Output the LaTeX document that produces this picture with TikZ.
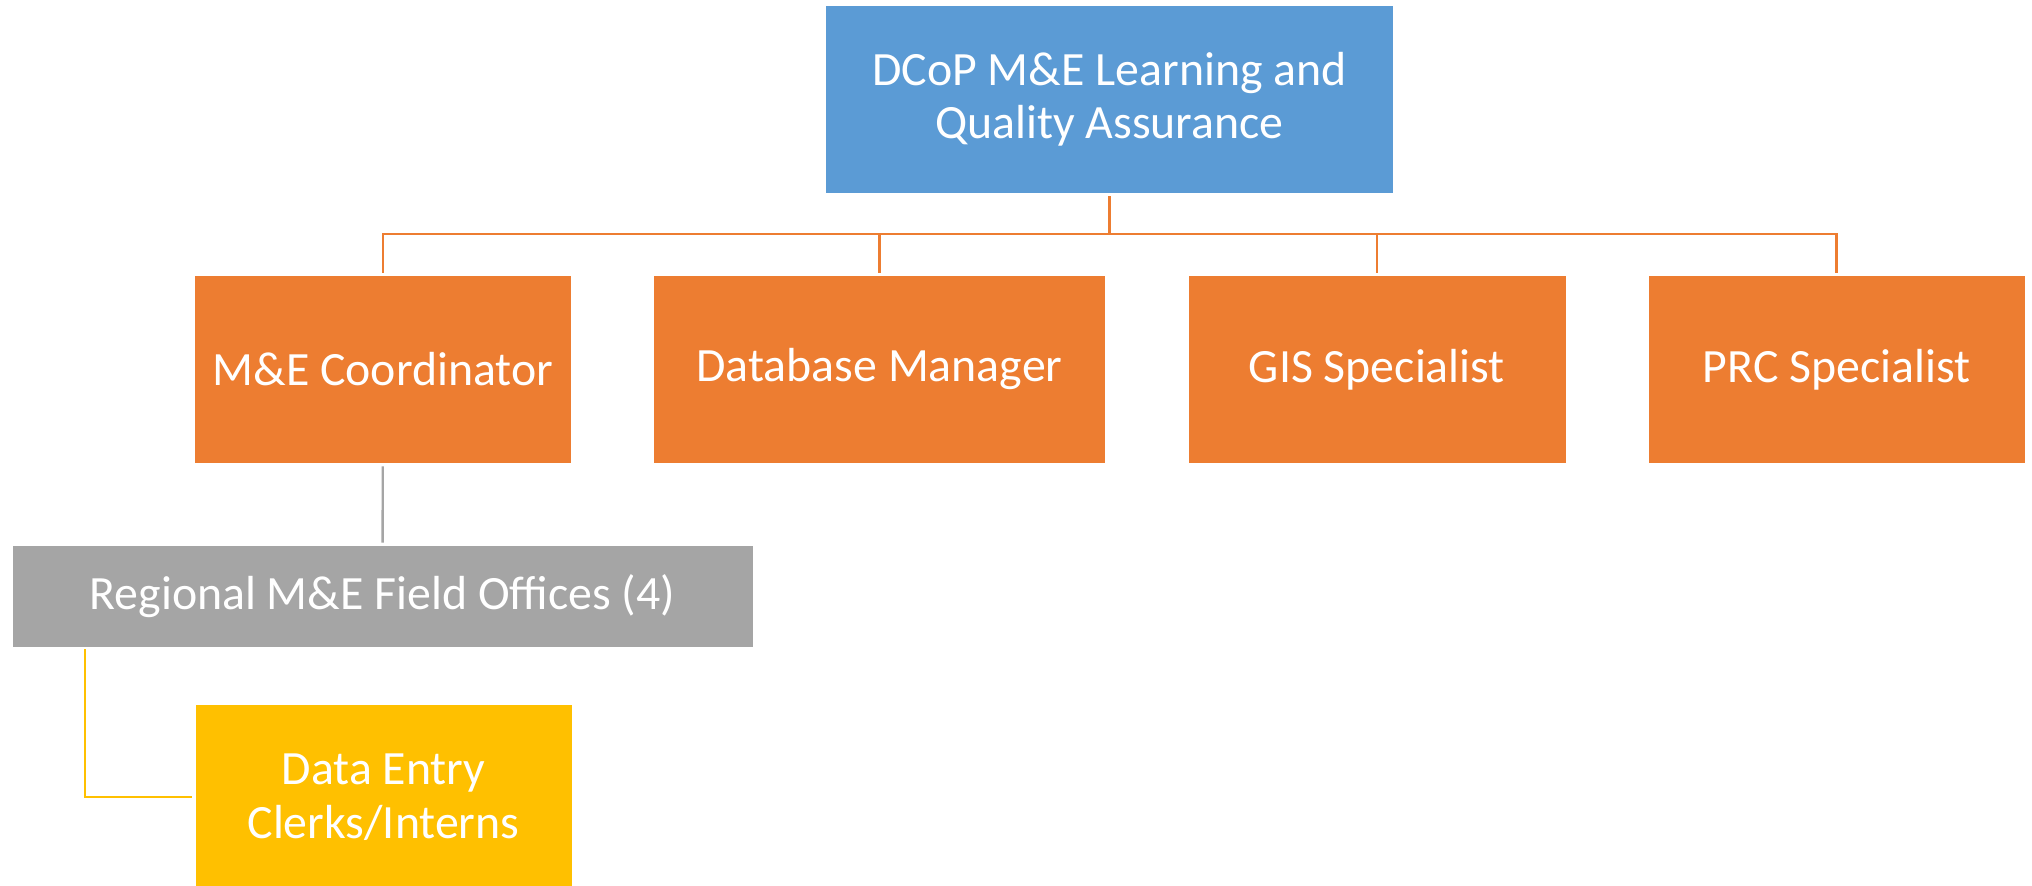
\documentclass[tikz,border=0pt]{standalone}
\usepackage{fontspec}
\setmainfont{Carlito}
\usepackage{tikz}
\usetikzlibrary{positioning}

\definecolor{ofblue}{HTML}{5B9BD5}
\definecolor{oforange}{HTML}{ED7D31}
\definecolor{ofgrey}{HTML}{A5A5A5}
\definecolor{ofgold}{HTML}{FFC000}

\tikzset{
  unitbox/.style={rectangle, draw=white, line width=0.6pt, text=white, align=center,
    inner sep=0pt, font=\fontsize{34}{38}\selectfont},
  headbox/.style={unitbox, fill=ofblue, minimum width=14.2cm, minimum height=4.68cm},
  staffbox/.style={unitbox, fill=oforange, minimum height=4.68cm},
  fieldbox/.style={unitbox, fill=ofgrey, minimum width=18.52cm, minimum height=2.53cm},
  clerkbox/.style={unitbox, fill=ofgold, minimum width=9.42cm, minimum height=4.65cm},
  orgline/.style={draw=oforange, line width=1.7pt},
  fieldline/.style={draw=ofgrey, line width=1.7pt},
  clerkline/.style={draw=ofgold, line width=1.7pt}
}

\begin{document}
\begin{tikzpicture}[x=0.025cm, y=-0.025cm]
          \useasboundingbox (0,0) rectangle (2032,886); % fixes the page

          \node [headbox] (head) at (1109.5,99.5) {DCoP M\&E Learning and\\Quality Assurance}; % top unit

          \node [staffbox, minimum width=9.42cm] (coord) at (383,369.5) {M\&E Coordinator}; % staff row
          \node [staffbox, minimum width=11.28cm] (dbm) at (879.5,369.5) {Database Manager};
          \node [staffbox, minimum width=9.45cm] (gis) at (1377,369.5) {GIS Specialist};
          \node [staffbox, minimum width=9.42cm] (prc) at (1836.5,369.5) {PRC Specialist};

          \node [fieldbox] (field) at (382.5,596.5) {Regional M\&E Field Offices (4)}; % field level
          \node [clerkbox] (clerks) at (383.5,797) {Data Entry\\Clerks/Interns};

          \coordinate (bus) at (1109.5,234);
          \coordinate (tap) at (85.3,649);

          \draw [orgline, shorten <=2pt] (head) -- (bus);
          \draw [orgline, shorten <=2pt, shorten >=2pt] (coord.north) |- (bus) -| (prc.north);
          \draw [orgline, shorten >=2pt] (bus -| dbm.north) -- (dbm.north);
          \draw [orgline, shorten >=2pt] (bus -| gis.north) -- (gis.north);

          \draw [fieldline, shorten <=2pt, shorten >=2pt] (coord) -- (field);
          \draw [clerkline, shorten >=2pt] (tap) |- (clerks.west);
        \end{tikzpicture}
\end{document}
